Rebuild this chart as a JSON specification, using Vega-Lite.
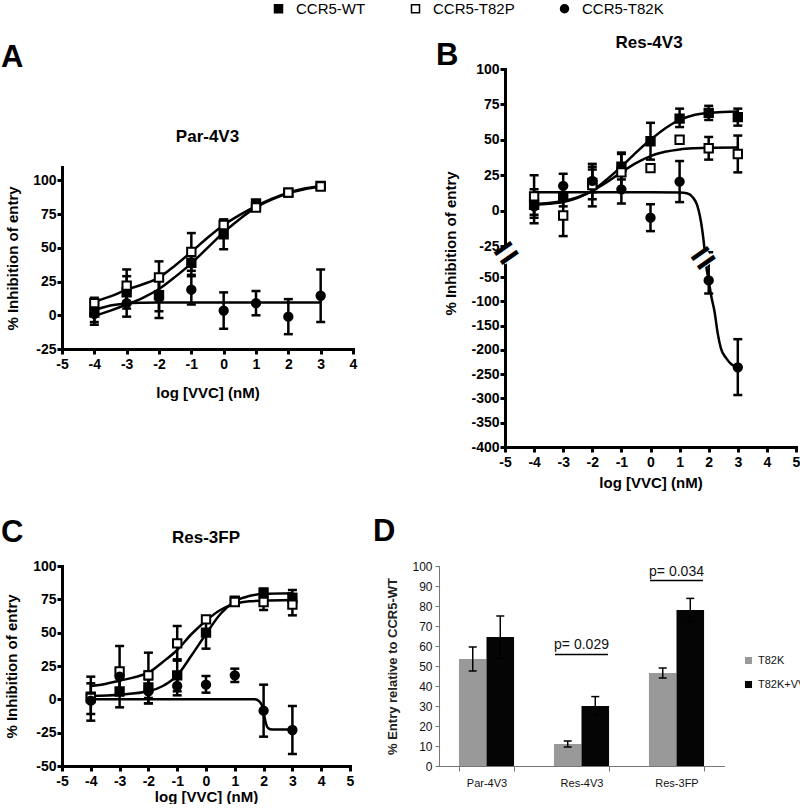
{
"$schema": "https://vega.github.io/schema/vega-lite/v6.json",
"background": "white",
"padding": {"left": 0, "top": 1, "right": 0, "bottom": 0},
"datasets": {
"ptsA": [
{"series":"CCR5-WT","x":-4,"y":2,"lo":-5,"hi":9},{"series":"CCR5-WT","x":-3,"y":17,"lo":5,"hi":29},{"series":"CCR5-WT","x":-2,"y":15,"lo":3,"hi":27},{"series":"CCR5-WT","x":-1,"y":39,"lo":29,"hi":49},{"series":"CCR5-WT","x":0,"y":60,"lo":49,"hi":71},{"series":"CCR5-WT","x":1,"y":83,"lo":null,"hi":null},{"series":"CCR5-WT","x":2,"y":91,"lo":null,"hi":null},{"series":"CCR5-WT","x":3,"y":96,"lo":null,"hi":null},
{"series":"CCR5-T82P","x":-4,"y":9,"lo":5,"hi":13},{"series":"CCR5-T82P","x":-3,"y":22,"lo":10,"hi":34},{"series":"CCR5-T82P","x":-2,"y":28,"lo":16,"hi":40},{"series":"CCR5-T82P","x":-1,"y":47,"lo":33,"hi":61},{"series":"CCR5-T82P","x":0,"y":67,"lo":63,"hi":71},{"series":"CCR5-T82P","x":1,"y":80,"lo":null,"hi":null},{"series":"CCR5-T82P","x":2,"y":91,"lo":null,"hi":null},{"series":"CCR5-T82P","x":3,"y":95.5,"lo":null,"hi":null},
{"series":"CCR5-T82K","x":-4,"y":1,"lo":-7,"hi":9},{"series":"CCR5-T82K","x":-3,"y":9,"lo":-1,"hi":19},{"series":"CCR5-T82K","x":-2,"y":13,"lo":-2,"hi":28},{"series":"CCR5-T82K","x":-1,"y":19,"lo":8,"hi":30},{"series":"CCR5-T82K","x":0,"y":3.5,"lo":-10,"hi":17},{"series":"CCR5-T82K","x":1,"y":9,"lo":0,"hi":18},{"series":"CCR5-T82K","x":2,"y":-1,"lo":-14,"hi":12},{"series":"CCR5-T82K","x":3,"y":14.5,"lo":-5,"hi":34}
],
"fitA": [
{"series":"CCR5-T82P","x":-4,"y":10},{"series":"CCR5-T82P","x":-3.5,"y":14},{"series":"CCR5-T82P","x":-3,"y":19},{"series":"CCR5-T82P","x":-2.5,"y":23},{"series":"CCR5-T82P","x":-2,"y":28},{"series":"CCR5-T82P","x":-1.5,"y":37},{"series":"CCR5-T82P","x":-1,"y":47},{"series":"CCR5-T82P","x":-0.5,"y":57.5},{"series":"CCR5-T82P","x":0,"y":67},{"series":"CCR5-T82P","x":0.5,"y":74.5},{"series":"CCR5-T82P","x":1,"y":81},{"series":"CCR5-T82P","x":1.5,"y":86.5},{"series":"CCR5-T82P","x":2,"y":91},{"series":"CCR5-T82P","x":2.5,"y":94},{"series":"CCR5-T82P","x":3,"y":96},
{"series":"CCR5-WT","x":-4,"y":-0.5},{"series":"CCR5-WT","x":-3.5,"y":3.5},{"series":"CCR5-WT","x":-3,"y":8},{"series":"CCR5-WT","x":-2.5,"y":13},{"series":"CCR5-WT","x":-2,"y":19.5},{"series":"CCR5-WT","x":-1.5,"y":28.5},{"series":"CCR5-WT","x":-1,"y":38.5},{"series":"CCR5-WT","x":-0.5,"y":50},{"series":"CCR5-WT","x":0,"y":61.5},{"series":"CCR5-WT","x":0.5,"y":71.5},{"series":"CCR5-WT","x":1,"y":80},{"series":"CCR5-WT","x":1.5,"y":86},{"series":"CCR5-WT","x":2,"y":90.5},{"series":"CCR5-WT","x":2.5,"y":93.5},{"series":"CCR5-WT","x":3,"y":95.5},
{"series":"CCR5-T82K","x":-4,"y":4},{"series":"CCR5-T82K","x":-3.5,"y":7.3},{"series":"CCR5-T82K","x":-3,"y":8.8},{"series":"CCR5-T82K","x":-2.5,"y":9.3},{"series":"CCR5-T82K","x":-2,"y":9.5},{"series":"CCR5-T82K","x":0,"y":9.5},{"series":"CCR5-T82K","x":3,"y":9.5}
],
"ptsB": [
{"series":"CCR5-WT","x":-4,"y":4,"lo":-3,"hi":11},{"series":"CCR5-WT","x":-3,"y":10,"lo":3,"hi":17},{"series":"CCR5-WT","x":-2,"y":19.5,"lo":8,"hi":31},{"series":"CCR5-WT","x":-1,"y":31,"lo":22,"hi":40},{"series":"CCR5-WT","x":0,"y":49,"lo":36,"hi":62},{"series":"CCR5-WT","x":1,"y":65,"lo":59,"hi":72},{"series":"CCR5-WT","x":2,"y":69,"lo":64,"hi":74},{"series":"CCR5-WT","x":3,"y":66,"lo":60,"hi":72},
{"series":"CCR5-T82P","x":-4,"y":10,"lo":-5,"hi":25},{"series":"CCR5-T82P","x":-3,"y":-3.5,"lo":-18,"hi":11},{"series":"CCR5-T82P","x":-2,"y":18,"lo":3,"hi":33},{"series":"CCR5-T82P","x":-1,"y":27,"lo":15,"hi":41},{"series":"CCR5-T82P","x":0,"y":30,"lo":null,"hi":null},{"series":"CCR5-T82P","x":1,"y":50,"lo":null,"hi":null},{"series":"CCR5-T82P","x":2,"y":44,"lo":36,"hi":52},{"series":"CCR5-T82P","x":3,"y":40,"lo":27,"hi":53},
{"series":"CCR5-T82K","x":-4,"y":3,"lo":-9,"hi":15},{"series":"CCR5-T82K","x":-3,"y":17.5,"lo":9,"hi":26},{"series":"CCR5-T82K","x":-2,"y":21,"lo":13,"hi":29},{"series":"CCR5-T82K","x":-1,"y":15,"lo":5,"hi":25},{"series":"CCR5-T82K","x":0,"y":-5,"lo":-14.5,"hi":4.5},{"series":"CCR5-T82K","x":1,"y":20.5,"lo":6,"hi":35},{"series":"CCR5-T82K","x":2,"y":-57,"lo":-84,"hi":-30},{"series":"CCR5-T82K","x":3,"y":-236,"lo":-293,"hi":-178}
],
"fitB": [
{"series":"CCR5-WT","x":-4,"y":4},{"series":"CCR5-WT","x":-3.5,"y":4.8},{"series":"CCR5-WT","x":-3,"y":6},{"series":"CCR5-WT","x":-2.5,"y":9},{"series":"CCR5-WT","x":-2,"y":14},{"series":"CCR5-WT","x":-1.5,"y":22},{"series":"CCR5-WT","x":-1,"y":31},{"series":"CCR5-WT","x":-0.5,"y":41},{"series":"CCR5-WT","x":0,"y":50},{"series":"CCR5-WT","x":0.5,"y":58},{"series":"CCR5-WT","x":1,"y":64},{"series":"CCR5-WT","x":1.5,"y":67.5},{"series":"CCR5-WT","x":2,"y":69},{"series":"CCR5-WT","x":2.5,"y":69.7},{"series":"CCR5-WT","x":3,"y":70},
{"series":"CCR5-T82P","x":-4,"y":4.5},{"series":"CCR5-T82P","x":-3.5,"y":5.3},{"series":"CCR5-T82P","x":-3,"y":6.8},{"series":"CCR5-T82P","x":-2.5,"y":9.5},{"series":"CCR5-T82P","x":-2,"y":14},{"series":"CCR5-T82P","x":-1.5,"y":20},{"series":"CCR5-T82P","x":-1,"y":27},{"series":"CCR5-T82P","x":-0.5,"y":33.5},{"series":"CCR5-T82P","x":0,"y":38.5},{"series":"CCR5-T82P","x":0.5,"y":41.5},{"series":"CCR5-T82P","x":1,"y":43.2},{"series":"CCR5-T82P","x":1.5,"y":44},{"series":"CCR5-T82P","x":2,"y":44.4},{"series":"CCR5-T82P","x":3,"y":44.6},
{"series":"CCR5-T82K","x":-4,"y":12.9},{"series":"CCR5-T82K","x":0,"y":12.9},{"series":"CCR5-T82K","x":1,"y":12.8},{"series":"CCR5-T82K","x":1.25,"y":12.2},{"series":"CCR5-T82K","x":1.45,"y":9.5},{"series":"CCR5-T82K","x":1.6,"y":4},{"series":"CCR5-T82K","x":1.7,"y":-4},{"series":"CCR5-T82K","x":1.78,"y":-14},{"series":"CCR5-T82K","x":1.85,"y":-26},{"series":"CCR5-T82K","x":1.92,"y":-42},{"series":"CCR5-T82K","x":2,"y":-57},{"series":"CCR5-T82K","x":2.08,"y":-87},{"series":"CCR5-T82K","x":2.2,"y":-121},{"series":"CCR5-T82K","x":2.31,"y":-166},{"series":"CCR5-T82K","x":2.42,"y":-197},{"series":"CCR5-T82K","x":2.6,"y":-217},{"series":"CCR5-T82K","x":2.77,"y":-229},{"series":"CCR5-T82K","x":3,"y":-236}
],
"ptsC": [
{"series":"CCR5-WT","x":-4,"y":2,"lo":-11,"hi":12},{"series":"CCR5-WT","x":-3,"y":6,"lo":-6,"hi":18},{"series":"CCR5-WT","x":-2,"y":9,"lo":-3,"hi":21},{"series":"CCR5-WT","x":-1,"y":18,"lo":6,"hi":30},{"series":"CCR5-WT","x":0,"y":50,"lo":38,"hi":62},{"series":"CCR5-WT","x":1,"y":74,"lo":null,"hi":null},{"series":"CCR5-WT","x":2,"y":80,"lo":77,"hi":83},{"series":"CCR5-WT","x":3,"y":76,"lo":70,"hi":82},
{"series":"CCR5-T82P","x":-4,"y":1,"lo":-16,"hi":17},{"series":"CCR5-T82P","x":-3,"y":21,"lo":3,"hi":40},{"series":"CCR5-T82P","x":-2,"y":18,"lo":1,"hi":35},{"series":"CCR5-T82P","x":-1,"y":42,"lo":29,"hi":55},{"series":"CCR5-T82P","x":0,"y":60,"lo":null,"hi":null},{"series":"CCR5-T82P","x":1,"y":73,"lo":null,"hi":null},{"series":"CCR5-T82P","x":2,"y":73,"lo":67,"hi":79},{"series":"CCR5-T82P","x":3,"y":71,"lo":63,"hi":79},
{"series":"CCR5-T82K","x":-4,"y":-1,"lo":null,"hi":null},{"series":"CCR5-T82K","x":-3,"y":17,"lo":null,"hi":null},{"series":"CCR5-T82K","x":-2,"y":6,"lo":-3,"hi":15},{"series":"CCR5-T82K","x":-1,"y":10,"lo":3,"hi":17},{"series":"CCR5-T82K","x":0,"y":11,"lo":5,"hi":17.5},{"series":"CCR5-T82K","x":1,"y":18,"lo":13,"hi":23},{"series":"CCR5-T82K","x":2,"y":-8.5,"lo":-28,"hi":11},{"series":"CCR5-T82K","x":3,"y":-23,"lo":-41,"hi":-5}
],
"fitC": [
{"series":"CCR5-WT","x":-4,"y":2.5},{"series":"CCR5-WT","x":-3,"y":3.5},{"series":"CCR5-WT","x":-2,"y":6},{"series":"CCR5-WT","x":-1.5,"y":10},{"series":"CCR5-WT","x":-1,"y":18},{"series":"CCR5-WT","x":-0.5,"y":33},{"series":"CCR5-WT","x":0,"y":49},{"series":"CCR5-WT","x":0.5,"y":64},{"series":"CCR5-WT","x":1,"y":73.5},{"series":"CCR5-WT","x":1.5,"y":77.5},{"series":"CCR5-WT","x":2,"y":79},{"series":"CCR5-WT","x":3,"y":79.5},
{"series":"CCR5-T82P","x":-4,"y":10},{"series":"CCR5-T82P","x":-3.5,"y":11.5},{"series":"CCR5-T82P","x":-3,"y":14},{"series":"CCR5-T82P","x":-2.5,"y":16.5},{"series":"CCR5-T82P","x":-2,"y":20},{"series":"CCR5-T82P","x":-1.5,"y":28},{"series":"CCR5-T82P","x":-1,"y":37},{"series":"CCR5-T82P","x":-0.5,"y":49},{"series":"CCR5-T82P","x":0,"y":59},{"series":"CCR5-T82P","x":0.5,"y":67},{"series":"CCR5-T82P","x":1,"y":71.5},{"series":"CCR5-T82P","x":1.5,"y":73.5},{"series":"CCR5-T82P","x":2,"y":74},{"series":"CCR5-T82P","x":3,"y":74.5},
{"series":"CCR5-T82K","x":-4,"y":0},{"series":"CCR5-T82K","x":1.7,"y":0},{"series":"CCR5-T82K","x":1.85,"y":-1.5},{"series":"CCR5-T82K","x":1.95,"y":-5},{"series":"CCR5-T82K","x":2.02,"y":-12},{"series":"CCR5-T82K","x":2.08,"y":-18},{"series":"CCR5-T82K","x":2.15,"y":-21.5},{"series":"CCR5-T82K","x":2.3,"y":-22.7},{"series":"CCR5-T82K","x":3,"y":-22.7}
],
"bars": [
{"virus":"Par-4V3","cond":"T82K","v":53.5,"lo":47.5,"hi":59.5},
{"virus":"Par-4V3","cond":"T82K+VVC","v":64.5,"lo":54,"hi":75},
{"virus":"Res-4V3","cond":"T82K","v":11,"lo":9.5,"hi":12.5},
{"virus":"Res-4V3","cond":"T82K+VVC","v":30,"lo":25.3,"hi":34.7},
{"virus":"Res-3FP","cond":"T82K","v":46.5,"lo":44,"hi":49},
{"virus":"Res-3FP","cond":"T82K+VVC","v":78,"lo":72.2,"hi":83.8}
]
},
"spacing": 26,
"resolve": {"scale": {"color": "independent"}},
"vconcat": [
{
"hconcat": [
{
"width": 291, "height": 182,
"layer": [
{"data": {"name": "fitA"}, "mark": {"type": "line", "color": "black", "strokeWidth": 2.5, "interpolate": "monotone"},
 "encoding": {
  "x": {"field": "x", "type": "quantitative", "scale": {"domain": [-5, 4], "nice": false, "zero": false},
    "axis": {"title": "log [VVC] (nM)", "values": [-5,-4,-3,-2,-1,0,1,2,3,4], "format": "d", "tickCount": 50, "labelOverlap": false, "titlePadding": 14}},
  "y": {"field": "y", "type": "quantitative", "scale": {"domain": [-25, 110], "nice": false, "zero": false},
    "axis": {"title": "% Inhibition of entry", "values": [-25,0,25,50,75,100], "format": "d", "tickCount": 50, "labelOverlap": false, "labelPadding": 1, "titlePadding": 12}},
  "detail": {"field": "series"}}},
{"data": {"name": "ptsA"}, "mark": {"type": "rule", "color": "black", "strokeWidth": 2.5},
 "encoding": {"x": {"field": "x", "type": "quantitative", "scale": {"domain": [-5, 4], "nice": false, "zero": false}}, "y": {"field": "lo", "type": "quantitative", "scale": {"domain": [-25, 110], "nice": false, "zero": false}}, "y2": {"field": "hi"}}},
{"data": {"name": "ptsA"}, "mark": {"type": "tick", "orient": "horizontal", "color": "black", "thickness": 2.5, "size": 9, "opacity": 1},
 "encoding": {"x": {"field": "x", "type": "quantitative", "scale": {"domain": [-5, 4], "nice": false, "zero": false}}, "y": {"field": "lo", "type": "quantitative", "scale": {"domain": [-25, 110], "nice": false, "zero": false}}}},
{"data": {"name": "ptsA"}, "mark": {"type": "tick", "orient": "horizontal", "color": "black", "thickness": 2.5, "size": 9, "opacity": 1},
 "encoding": {"x": {"field": "x", "type": "quantitative", "scale": {"domain": [-5, 4], "nice": false, "zero": false}}, "y": {"field": "hi", "type": "quantitative", "scale": {"domain": [-25, 110], "nice": false, "zero": false}}}},
{"data": {"name": "ptsA"}, "mark": {"type": "point", "filled": true, "stroke": "black", "strokeWidth": 2, "size": 70, "opacity": 1},
 "encoding": {"x": {"field": "x", "type": "quantitative", "scale": {"domain": [-5, 4], "nice": false, "zero": false}}, "y": {"field": "y", "type": "quantitative", "scale": {"domain": [-25, 110], "nice": false, "zero": false}},
  "shape": {"field": "series", "type": "nominal", "scale": {"domain": ["CCR5-WT","CCR5-T82P","CCR5-T82K"], "range": ["square","square","circle"]}, "legend": {"orient": "none", "legendX": 209, "legendY": -68, "direction": "horizontal", "title": null, "labelFontSize": 15, "labelColor": "black", "symbolSize": 64, "columnPadding": 42, "labelOffset": 10, "padding": 0, "encode": {"symbols": {"update": {"stroke": {"value": "black"}, "strokeWidth": {"value": 2}}}}}},
  "fill": {"field": "series", "type": "nominal", "scale": {"domain": ["CCR5-WT","CCR5-T82P","CCR5-T82K"], "range": ["black","white","black"]}, "legend": {"orient": "none", "legendX": 209, "legendY": -68, "direction": "horizontal", "title": null, "labelFontSize": 15, "labelColor": "black", "symbolSize": 64, "columnPadding": 42, "labelOffset": 10, "padding": 0, "encode": {"symbols": {"update": {"stroke": {"value": "black"}, "strokeWidth": {"value": 2}}}}}}}},
{"data": {"values": [{}]}, "mark": {"type": "text", "text": "A", "fontSize": 31, "fontWeight": "bold", "align": "left", "baseline": "alphabetic", "color": "black"},
 "encoding": {"x": {"datum": -6.887, "type": "quantitative", "scale": {"domain": [-5, 4], "nice": false, "zero": false}}, "y": {"datum": 184, "type": "quantitative", "scale": {"domain": [-25, 110], "nice": false, "zero": false}}}},
{"data": {"values": [{}]}, "mark": {"type": "text", "text": "Par-4V3", "fontSize": 17, "fontWeight": "bold", "align": "center", "baseline": "alphabetic", "color": "black"},
 "encoding": {"x": {"datum": -0.5, "type": "quantitative", "scale": {"domain": [-5, 4], "nice": false, "zero": false}}, "y": {"datum": 128.5, "type": "quantitative", "scale": {"domain": [-25, 110], "nice": false, "zero": false}}}}
]
},
{
"width": 291, "height": 378,
"layer": [
{"data": {"name": "fitB"}, "mark": {"type": "line", "color": "black", "strokeWidth": 2.5, "interpolate": "monotone"},
 "encoding": {
  "x": {"field": "x", "type": "quantitative", "scale": {"domain": [-5, 5], "nice": false, "zero": false},
    "axis": {"title": "log [VVC] (nM)", "values": [-5,-4,-3,-2,-1,0,1,2,3,4,5], "format": "d", "tickCount": 50, "labelOverlap": false, "titlePadding": 6}},
  "y": {"field": "y", "type": "quantitative", "scale": {"domain": [-400, -50, -25, 100], "range": [378, 208, 177, 0], "nice": false, "zero": false},
    "axis": {"title": "% Inhibition of entry", "values": [100,75,50,25,0,-25,-50,-100,-150,-200,-250,-300,-350,-400], "format": "d", "tickCount": 50, "labelOverlap": false, "labelPadding": 1, "titlePadding": 12, "titleY": 174}},
  "detail": {"field": "series"}}},
{"data": {"name": "ptsB"}, "mark": {"type": "rule", "color": "black", "strokeWidth": 2.5},
 "encoding": {"x": {"field": "x", "type": "quantitative", "scale": {"domain": [-5, 5], "nice": false, "zero": false}}, "y": {"field": "lo", "type": "quantitative", "scale": {"domain": [-400, -50, -25, 100], "range": [378, 208, 177, 0], "nice": false, "zero": false}}, "y2": {"field": "hi"}}},
{"data": {"name": "ptsB"}, "mark": {"type": "tick", "orient": "horizontal", "color": "black", "thickness": 2.5, "size": 9, "opacity": 1},
 "encoding": {"x": {"field": "x", "type": "quantitative", "scale": {"domain": [-5, 5], "nice": false, "zero": false}}, "y": {"field": "lo", "type": "quantitative", "scale": {"domain": [-400, -50, -25, 100], "range": [378, 208, 177, 0], "nice": false, "zero": false}}}},
{"data": {"name": "ptsB"}, "mark": {"type": "tick", "orient": "horizontal", "color": "black", "thickness": 2.5, "size": 9, "opacity": 1},
 "encoding": {"x": {"field": "x", "type": "quantitative", "scale": {"domain": [-5, 5], "nice": false, "zero": false}}, "y": {"field": "hi", "type": "quantitative", "scale": {"domain": [-400, -50, -25, 100], "range": [378, 208, 177, 0], "nice": false, "zero": false}}}},
{"data": {"name": "ptsB"}, "mark": {"type": "point", "filled": true, "stroke": "black", "strokeWidth": 2, "size": 70, "opacity": 1},
 "encoding": {"x": {"field": "x", "type": "quantitative", "scale": {"domain": [-5, 5], "nice": false, "zero": false}}, "y": {"field": "y", "type": "quantitative", "scale": {"domain": [-400, -50, -25, 100], "range": [378, 208, 177, 0], "nice": false, "zero": false}},
  "shape": {"field": "series", "type": "nominal", "scale": {"domain": ["CCR5-WT","CCR5-T82P","CCR5-T82K"], "range": ["square","square","circle"]}, "legend": {"orient": "none", "legendX": 209, "legendY": -68, "direction": "horizontal", "title": null, "labelFontSize": 15, "labelColor": "black", "symbolSize": 64, "columnPadding": 42, "labelOffset": 10, "padding": 0, "encode": {"symbols": {"update": {"stroke": {"value": "black"}, "strokeWidth": {"value": 2}}}}}},
  "fill": {"field": "series", "type": "nominal", "scale": {"domain": ["CCR5-WT","CCR5-T82P","CCR5-T82K"], "range": ["black","white","black"]}, "legend": {"orient": "none", "legendX": 209, "legendY": -68, "direction": "horizontal", "title": null, "labelFontSize": 15, "labelColor": "black", "symbolSize": 64, "columnPadding": 42, "labelOffset": 10, "padding": 0, "encode": {"symbols": {"update": {"stroke": {"value": "black"}, "strokeWidth": {"value": 2}}}}}}}},
{"data": {"values": [{}]}, "mark": {"type": "point", "shape": "square", "filled": true, "fill": "white", "size": 220, "angle": -35, "strokeWidth": 0, "opacity": 1},
 "encoding": {"x": {"datum": -4.93, "type": "quantitative", "scale": {"domain": [-5, 5], "nice": false, "zero": false}}, "y": {"datum": -31.5, "type": "quantitative", "scale": {"domain": [-400, -50, -25, 100], "range": [378, 208, 177, 0], "nice": false, "zero": false}}}},
{"data": {"values": [{}]}, "mark": {"type": "point", "shape": "square", "filled": true, "fill": "white", "size": 220, "angle": -35, "strokeWidth": 0, "opacity": 1},
 "encoding": {"x": {"datum": 1.84, "type": "quantitative", "scale": {"domain": [-5, 5], "nice": false, "zero": false}}, "y": {"datum": -35.5, "type": "quantitative", "scale": {"domain": [-400, -50, -25, 100], "range": [378, 208, 177, 0], "nice": false, "zero": false}}}},
{"data": {"values": [{}]}, "mark": {"type": "text", "text": "=", "fontSize": 40, "fontWeight": "bold", "angle": -35, "align": "center", "baseline": "middle", "color": "black"},
 "encoding": {"x": {"datum": -4.93, "type": "quantitative", "scale": {"domain": [-5, 5], "nice": false, "zero": false}}, "y": {"datum": -31.5, "type": "quantitative", "scale": {"domain": [-400, -50, -25, 100], "range": [378, 208, 177, 0], "nice": false, "zero": false}}}},
{"data": {"values": [{}]}, "mark": {"type": "text", "text": "=", "fontSize": 40, "fontWeight": "bold", "angle": -35, "align": "center", "baseline": "middle", "color": "black"},
 "encoding": {"x": {"datum": 1.84, "type": "quantitative", "scale": {"domain": [-5, 5], "nice": false, "zero": false}}, "y": {"datum": -35.5, "type": "quantitative", "scale": {"domain": [-400, -50, -25, 100], "range": [378, 208, 177, 0], "nice": false, "zero": false}}}},
{"data": {"values": [{}]}, "mark": {"type": "text", "text": "B", "fontSize": 31, "fontWeight": "bold", "align": "left", "baseline": "alphabetic", "color": "black"},
 "encoding": {"x": {"datum": -7.371, "type": "quantitative", "scale": {"domain": [-5, 5], "nice": false, "zero": false}}, "y": {"datum": 102.8, "type": "quantitative", "scale": {"domain": [-400, -50, -25, 100], "range": [378, 208, 177, 0], "nice": false, "zero": false}}}},
{"data": {"values": [{}]}, "mark": {"type": "text", "text": "Res-4V3", "fontSize": 17, "fontWeight": "bold", "align": "center", "baseline": "alphabetic", "color": "black"},
 "encoding": {"x": {"datum": -0.05, "type": "quantitative", "scale": {"domain": [-5, 5], "nice": false, "zero": false}}, "y": {"datum": 114.8, "type": "quantitative", "scale": {"domain": [-400, -50, -25, 100], "range": [378, 208, 177, 0], "nice": false, "zero": false}}}}
]
}
],
"spacing": 152, "bounds": "flush", "center": true
},
{
"hconcat": [
{
"width": 288, "height": 200,
"layer": [
{"data": {"name": "fitC"}, "mark": {"type": "line", "color": "black", "strokeWidth": 2.5, "interpolate": "monotone"},
 "encoding": {
  "x": {"field": "x", "type": "quantitative", "scale": {"domain": [-5, 5], "nice": false, "zero": false},
    "axis": {"title": "log [VVC] (nM)", "values": [-5,-4,-3,-2,-1,0,1,2,3,4,5], "format": "d", "tickCount": 50, "labelOverlap": false, "titlePadding": 1}},
  "y": {"field": "y", "type": "quantitative", "scale": {"domain": [-50, 100], "nice": false, "zero": false},
    "axis": {"title": "% Inhibition of entry", "values": [-50,-25,0,25,50,75,100], "format": "d", "tickCount": 50, "labelOverlap": false, "labelPadding": 1, "titlePadding": 13}},
  "detail": {"field": "series"}}},
{"data": {"name": "ptsC"}, "mark": {"type": "rule", "color": "black", "strokeWidth": 2.5},
 "encoding": {"x": {"field": "x", "type": "quantitative", "scale": {"domain": [-5, 5], "nice": false, "zero": false}}, "y": {"field": "lo", "type": "quantitative", "scale": {"domain": [-50, 100], "nice": false, "zero": false}}, "y2": {"field": "hi"}}},
{"data": {"name": "ptsC"}, "mark": {"type": "tick", "orient": "horizontal", "color": "black", "thickness": 2.5, "size": 9, "opacity": 1},
 "encoding": {"x": {"field": "x", "type": "quantitative", "scale": {"domain": [-5, 5], "nice": false, "zero": false}}, "y": {"field": "lo", "type": "quantitative", "scale": {"domain": [-50, 100], "nice": false, "zero": false}}}},
{"data": {"name": "ptsC"}, "mark": {"type": "tick", "orient": "horizontal", "color": "black", "thickness": 2.5, "size": 9, "opacity": 1},
 "encoding": {"x": {"field": "x", "type": "quantitative", "scale": {"domain": [-5, 5], "nice": false, "zero": false}}, "y": {"field": "hi", "type": "quantitative", "scale": {"domain": [-50, 100], "nice": false, "zero": false}}}},
{"data": {"name": "ptsC"}, "mark": {"type": "point", "filled": true, "stroke": "black", "strokeWidth": 2, "size": 70, "opacity": 1},
 "encoding": {"x": {"field": "x", "type": "quantitative", "scale": {"domain": [-5, 5], "nice": false, "zero": false}}, "y": {"field": "y", "type": "quantitative", "scale": {"domain": [-50, 100], "nice": false, "zero": false}},
  "shape": {"field": "series", "type": "nominal", "scale": {"domain": ["CCR5-WT","CCR5-T82P","CCR5-T82K"], "range": ["square","square","circle"]}, "legend": {"orient": "none", "legendX": 209, "legendY": -68, "direction": "horizontal", "title": null, "labelFontSize": 15, "labelColor": "black", "symbolSize": 64, "columnPadding": 42, "labelOffset": 10, "padding": 0, "encode": {"symbols": {"update": {"stroke": {"value": "black"}, "strokeWidth": {"value": 2}}}}}},
  "fill": {"field": "series", "type": "nominal", "scale": {"domain": ["CCR5-WT","CCR5-T82P","CCR5-T82K"], "range": ["black","white","black"]}, "legend": {"orient": "none", "legendX": 209, "legendY": -68, "direction": "horizontal", "title": null, "labelFontSize": 15, "labelColor": "black", "symbolSize": 64, "columnPadding": 42, "labelOffset": 10, "padding": 0, "encode": {"symbols": {"update": {"stroke": {"value": "black"}, "strokeWidth": {"value": 2}}}}}}}},
{"data": {"values": [{}]}, "mark": {"type": "text", "text": "C", "fontSize": 31, "fontWeight": "bold", "align": "left", "baseline": "alphabetic", "color": "black"},
 "encoding": {"x": {"datum": -7.118, "type": "quantitative", "scale": {"domain": [-5, 5], "nice": false, "zero": false}}, "y": {"datum": 118, "type": "quantitative", "scale": {"domain": [-50, 100], "nice": false, "zero": false}}}},
{"data": {"values": [{}]}, "mark": {"type": "text", "text": "Res-3FP", "fontSize": 17, "fontWeight": "bold", "align": "center", "baseline": "alphabetic", "color": "black"},
 "encoding": {"x": {"datum": 0, "type": "quantitative", "scale": {"domain": [-5, 5], "nice": false, "zero": false}}, "y": {"datum": 117, "type": "quantitative", "scale": {"domain": [-50, 100], "nice": false, "zero": false}}}}
]
},
{
"width": 285, "height": 200,
"title": {"text": "D", "anchor": "start", "frame": "bounds", "fontSize": 31, "offset": 12, "dx": -14},
"data": {"name": "bars"},
"layer": [
{"mark": {"type": "bar", "opacity": 1},
 "encoding": {
  "x": {"field": "virus", "type": "nominal", "scale": {"domain": ["Par-4V3","Res-4V3","Res-3FP"], "paddingInner": 0.42, "paddingOuter": 0.21},
    "axis": {"title": null, "labelAngle": 0}},
  "xOffset": {"field": "cond", "type": "nominal", "scale": {"domain": ["T82K","T82K+VVC"], "paddingInner": 0, "paddingOuter": 0}},
  "y": {"field": "v", "type": "quantitative", "scale": {"domain": [0, 100], "nice": false},
    "axis": {"title": "% Entry relative to CCR5-WT", "values": [0,10,20,30,40,50,60,70,80,90,100], "format": "d", "tickCount": 50, "labelOverlap": false, "titleFontSize": 13, "titleColor": "#222", "titlePadding": 12, "labelFontSize": 12, "labelFontWeight": "normal", "labelColor": "#111", "domainColor": "#777", "domainWidth": 1, "tickColor": "#777", "tickWidth": 1, "tickSize": 4, "labelPadding": 3}},
  "color": {"field": "cond", "type": "nominal", "scale": {"domain": ["T82K","T82K+VVC"], "range": ["#999999","#050505"]},
    "legend": {"orient": "none", "legendX": 304, "legendY": 89, "title": null, "symbolType": "square", "symbolSize": 50, "labelFontSize": 11, "labelColor": "#111", "rowPadding": 12, "labelOffset": 4, "padding": 0}}}},
{"mark": {"type": "rule", "color": "black", "strokeWidth": 1.5},
 "encoding": {"x": {"field": "virus", "type": "nominal", "scale": {"domain": ["Par-4V3","Res-4V3","Res-3FP"], "paddingInner": 0.42, "paddingOuter": 0.21}}, "xOffset": {"field": "cond", "type": "nominal", "scale": {"domain": ["T82K","T82K+VVC"], "paddingInner": 0, "paddingOuter": 0}}, "y": {"field": "lo", "type": "quantitative", "scale": {"domain": [0, 100], "nice": false}}, "y2": {"field": "hi"}}},
{"mark": {"type": "tick", "orient": "horizontal", "color": "black", "thickness": 1.5, "size": 8, "opacity": 1},
 "encoding": {"x": {"field": "virus", "type": "nominal", "scale": {"domain": ["Par-4V3","Res-4V3","Res-3FP"], "paddingInner": 0.42, "paddingOuter": 0.21}}, "xOffset": {"field": "cond", "type": "nominal", "scale": {"domain": ["T82K","T82K+VVC"], "paddingInner": 0, "paddingOuter": 0}}, "y": {"field": "lo", "type": "quantitative", "scale": {"domain": [0, 100], "nice": false}}}},
{"mark": {"type": "tick", "orient": "horizontal", "color": "black", "thickness": 1.5, "size": 8, "opacity": 1},
 "encoding": {"x": {"field": "virus", "type": "nominal", "scale": {"domain": ["Par-4V3","Res-4V3","Res-3FP"], "paddingInner": 0.42, "paddingOuter": 0.21}}, "xOffset": {"field": "cond", "type": "nominal", "scale": {"domain": ["T82K","T82K+VVC"], "paddingInner": 0, "paddingOuter": 0}}, "y": {"field": "hi", "type": "quantitative", "scale": {"domain": [0, 100], "nice": false}}}},
{"data": {"values": [{}]}, "mark": {"type": "text", "text": "p= 0.029", "fontSize": 14, "align": "center", "baseline": "alphabetic", "color": "#111"},
 "encoding": {"x": {"datum": "Res-4V3", "type": "nominal", "scale": {"domain": ["Par-4V3","Res-4V3","Res-3FP"], "paddingInner": 0.42, "paddingOuter": 0.21}}, "y": {"datum": 58.5, "type": "quantitative", "scale": {"domain": [0, 100], "nice": false}}}},
{"data": {"values": [{}]}, "mark": {"type": "tick", "orient": "horizontal", "color": "black", "thickness": 1.5, "size": 53, "opacity": 1},
 "encoding": {"x": {"datum": "Res-4V3", "type": "nominal", "scale": {"domain": ["Par-4V3","Res-4V3","Res-3FP"], "paddingInner": 0.42, "paddingOuter": 0.21}}, "y": {"datum": 55.7, "type": "quantitative", "scale": {"domain": [0, 100], "nice": false}}}},
{"data": {"values": [{}]}, "mark": {"type": "text", "text": "p= 0.034", "fontSize": 14, "align": "center", "baseline": "alphabetic", "color": "#111"},
 "encoding": {"x": {"datum": "Res-3FP", "type": "nominal", "scale": {"domain": ["Par-4V3","Res-4V3","Res-3FP"], "paddingInner": 0.42, "paddingOuter": 0.21}}, "y": {"datum": 95, "type": "quantitative", "scale": {"domain": [0, 100], "nice": false}}}},
{"data": {"values": [{}]}, "mark": {"type": "tick", "orient": "horizontal", "color": "black", "thickness": 1.5, "size": 53, "opacity": 1},
 "encoding": {"x": {"datum": "Res-3FP", "type": "nominal", "scale": {"domain": ["Par-4V3","Res-4V3","Res-3FP"], "paddingInner": 0.42, "paddingOuter": 0.21}}, "y": {"datum": 92.7, "type": "quantitative", "scale": {"domain": [0, 100], "nice": false}}}}
]
}
],
"spacing": 89, "bounds": "flush",
"resolve": {"scale": {"color": "independent"}}
}
],
"config": {
"font": "Liberation Sans",
"view": {"stroke": null},
"axis": {"labelFont": "Liberation Sans", "titleFont": "Liberation Sans", "grid": false, "labelColor": "black", "titleColor": "black",
  "domainWidth": 3, "domainColor": "black", "domainCap": "square", "tickWidth": 3, "tickSize": 5, "tickColor": "black",
  "labelFontSize": 14, "labelFontWeight": "bold", "labelPadding": 3, "labelFlush": false, "labelOverlap": false,
  "titleFontSize": 15, "titleFontWeight": "bold", "labelExpr": "replace(datum.label, '\u2212', '-')"},
"axisXBand": {"domainWidth": 1, "domainColor": "#777", "tickWidth": 1, "tickColor": "#777", "tickSize": 5, "tickBand": "extent",
  "labelFontSize": 11, "labelFontWeight": "normal", "labelColor": "#111", "labelPadding": 6, "labelAngle": 0, "labelExpr": "datum.label"},
"title": {"font": "Liberation Sans", "fontWeight": "bold", "color": "black"},
"legend": {"labelFont": "Liberation Sans"},
"text": {"font": "Liberation Sans"}
}
}
